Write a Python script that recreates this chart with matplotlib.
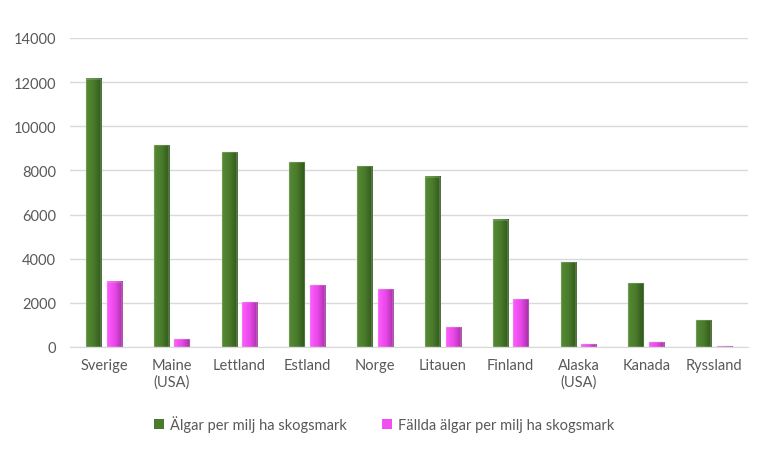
import numpy as np
import matplotlib.pyplot as plt
from matplotlib.colors import LinearSegmentedColormap
from matplotlib.patches import Patch

plt.rcParams['font.family'] = ['Lato', 'DejaVu Sans']

countries = ["Sverige", "Maine\n(USA)", "Lettland", "Estland", "Norge",
             "Litauen", "Finland", "Alaska\n(USA)", "Kanada", "Ryssland"]
algar = [12150, 9150, 8820, 8380, 8200, 7720, 5770, 3840, 2880, 1220]
fallda = [2950, 360, 2030, 2800, 2620, 890, 2160, 130, 210, 40]
label_algar = "Älgar per milj ha skogsmark"
label_fallda = "Fällda älgar per milj ha skogsmark"

green_cmap = LinearSegmentedColormap.from_list("g", ["#558a34", "#4a7a2c", "#2f5719"])
pink_cmap = LinearSegmentedColormap.from_list("p", ["#ff5cff", "#e848e8", "#a52ea5"])

fig = plt.figure(figsize=(7.68, 4.52), dpi=100)
ax = fig.add_axes([70 / 768, 1 - 348 / 452, 678 / 768, 309 / 452])

x = np.arange(len(countries))
w = 0.225
off = 0.152
grad = np.linspace(0, 1, 64).reshape(1, -1)

def gradient_bars(xs, vals, cmap):
    for xi, v in zip(xs, vals):
        ax.imshow(grad, cmap=cmap, aspect='auto', extent=(xi - w / 2, xi + w / 2, 0, v),
                  zorder=3, interpolation='bilinear')
        ax.add_patch(plt.Rectangle((xi - w / 2, 0), w, v, fill=False,
                                   edgecolor="#d5ddd0", linewidth=0.3, zorder=4))

gradient_bars(x - off, algar, green_cmap)
gradient_bars(x + off, fallda, pink_cmap)

ax.set_xlim(-0.5, len(countries) - 0.5)
ax.set_ylim(0, 14000)
ax.set_yticks(range(0, 14001, 2000))
ax.set_xticks(x)
ax.set_xticklabels(countries)
ax.grid(axis='y', color='#d9d9d9', linewidth=1, zorder=0)
ax.set_axisbelow(True)
for s in ax.spines.values():
    s.set_visible(False)
ax.spines['bottom'].set_visible(True)
ax.spines['bottom'].set_color('#d9d9d9')
ax.tick_params(length=0, colors='#595959', labelsize=10.5)
ax.tick_params(axis='y', pad=10)
ax.tick_params(axis='x', pad=8)

handles = [Patch(facecolor="#4a7a2c", label=label_algar),
           Patch(facecolor="#f050f0", label=label_fallda)]
fig.legend(handles=handles, loc='center', bbox_to_anchor=(0.5, 1 - 425 / 452), ncol=2,
           frameon=False, fontsize=10.5, labelcolor='#595959', handlelength=0.7,
           handleheight=0.7, handletextpad=0.4, columnspacing=2.4)

fig.savefig("out.png", dpi=100)
